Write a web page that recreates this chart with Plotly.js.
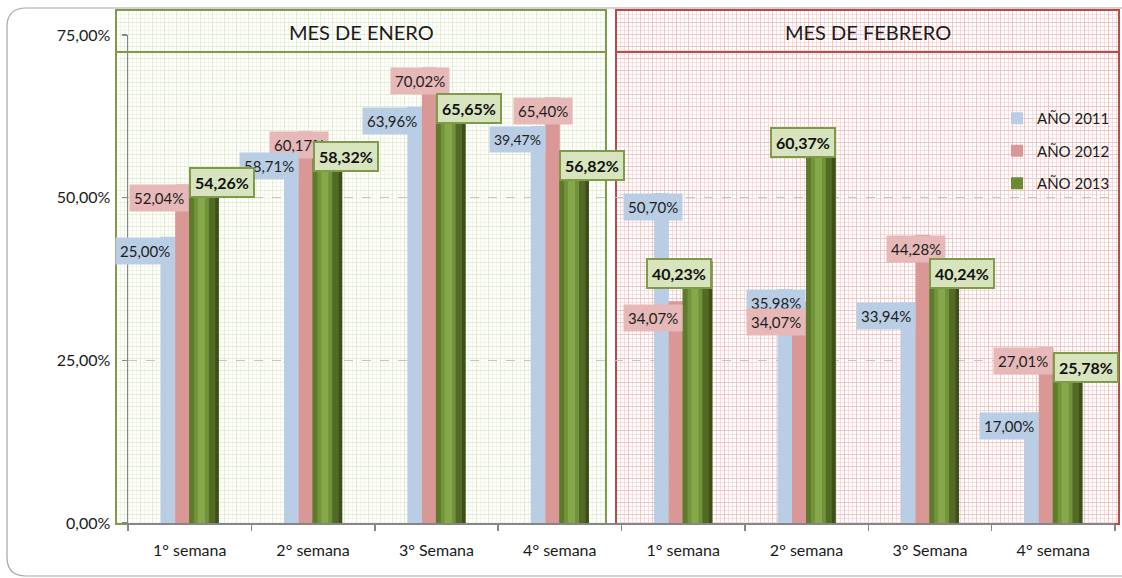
<!DOCTYPE html>
<html>
<head>
<meta charset="utf-8">
<script src="https://cdn.plot.ly/plotly-3.0.1.min.js"></script>
<style>
  html, body { margin: 0; padding: 0; background: #fff; }
  #chart { width: 1122px; height: 578px; }
</style>
</head>
<body>
<div id="chart"></div>
<script>
const weeks = ["1° semana", "2° semana", "3° Semana", "4° semana", "1° semana", "2° semana", "3° Semana", "4° semana"];
const months = ["MES DE ENERO", "MES DE FEBRERO"];
const seriesNames = ["AÑO 2011", "AÑO 2012", "AÑO 2013"];
const yTicks = [0, 25, 50, 75];

// bar heights as drawn (%)
const y2011 = [44.0, 58.71, 63.96, 61.0, 50.70, 35.98, 33.94, 17.00];
const y2012 = [52.04, 60.17, 70.02, 65.40, 34.07, 34.07, 44.28, 27.01];
const y2013 = [54.26, 58.32, 65.65, 56.82, 40.23, 60.37, 40.24, 25.78];

// labels as printed (two of the 2011 labels don't match their bars)
const labels2011 = ["25,00%", "58,71%", "63,96%", "39,47%", "50,70%", "35,98%", "33,94%", "17,00%"];

const FONT = 'Lato, "Open Sans", sans-serif';
const xIdx = weeks.map((_, i) => i);
const fmt = (v) => v.toFixed(2).replace(".", ",") + "%";

// pixel -> paper helpers (plot area is 128..1115 x 35..523)
const L = 128, R = 1115, T = 35, B = 523;
const X = (p) => (p - L) / (R - L);
const Y = (p) => (B - p) / (B - T);

// Bars (overlay, 3d-ish cylinder for 2013 made of stripes)

const blue = {
  type: "bar", x: xIdx, y: y2011, name: seriesNames[0], legendgroup: "g2011",
  width: 0.12, offset: -0.236,
  marker: { color: "#b9cde5" }, hoverinfo: "skip",
};
const pink = {
  type: "bar", x: xIdx, y: y2012, name: seriesNames[1], legendgroup: "g2012",
  width: 0.118, offset: -0.118,
  marker: { color: "#d99795" }, hoverinfo: "skip",
};
const greenStripes = [
  { offset: -0.004, width: 0.24, color: "#6a8b33", legend: true },
  { offset: -0.004, width: 0.04, color: "#5d7b2b" },
  { offset: 0.036, width: 0.03, color: "#73953a" },
  { offset: 0.066, width: 0.06, color: "#86a84a" },
  { offset: 0.126, width: 0.03, color: "#73933a" },
  { offset: 0.156, width: 0.05, color: "#516a26" },
  { offset: 0.206, width: 0.03, color: "#3e4f1c" },
];
const greens = greenStripes.map((s) => ({
  type: "bar", x: xIdx, y: y2013, name: seriesNames[2],
  width: s.width, offset: s.offset,
  marker: { color: s.color },
  legendgroup: "g2013", showlegend: !!s.legend, hoverinfo: "skip",
}));

// Data labels

const annotations = [];
const blueNudge = [0, 0, 0, 0, 14, 14, 0, 0];
const blueDrop = [0, 11, 0, 0, 0, 0, 0, 0];
const pinkNudge = [0, 16, 14, 13, 0, 0, 16, 0];
const pinkDrop = [0, 0, 0, 0, 3, 7, 0, 0];
const greenSide = ["left", "left", "left", "left", "right", "right", "left", "left"];

function blueLabel(i) {
  return {
    x: i - 0.116, y: y2011[i], xref: "x", yref: "y",
    xanchor: "right", yanchor: "top", xshift: blueNudge[i], yshift: -blueDrop[i],
    text: labels2011[i], showarrow: false,
    bgcolor: "#b9cde5", borderpad: 4,
    font: { family: FONT, size: i === 3 ? 14 : 15, color: "#1d1d1d" },
  };
}
function pinkLabel(i) {
  return {
    x: i - 0.002, y: y2012[i], xref: "x", yref: "y",
    xanchor: "right", yanchor: "top", xshift: pinkNudge[i], yshift: -pinkDrop[i],
    text: fmt(y2012[i]), showarrow: false,
    bgcolor: "#e6b9b8", borderpad: 4,
    font: { family: FONT, size: 15, color: "#1d1d1d" },
  };
}
// in enero the blue labels sit over the pink ones, in febrero the other way round
xIdx.forEach((i) => {
  if (i < 4) annotations.push(pinkLabel(i), blueLabel(i));
  else annotations.push(blueLabel(i), pinkLabel(i));
});
xIdx.forEach((i) => {
  const left = greenSide[i] === "left";
  annotations.push({
    x: left ? i - 0.004 : i + 0.236, y: y2013[i], xref: "x", yref: "y",
    xanchor: greenSide[i], yanchor: "top", yshift: 3,
    text: "<b>" + fmt(y2013[i]) + "</b>", showarrow: false,
    bgcolor: "#d7e4bd", bordercolor: "#7f9a48", borderwidth: 2, borderpad: 4,
    font: { family: FONT, size: 16, color: "#111" },
  });
});

// month headers
annotations.push(
  { x: X(361), y: Y(32), xref: "paper", yref: "paper", xanchor: "center", yanchor: "middle",
    text: months[0], showarrow: false, font: { family: FONT, size: 20, color: "#1a1a1a" } },
  { x: X(868), y: Y(32), xref: "paper", yref: "paper", xanchor: "center", yanchor: "middle",
    text: months[1], showarrow: false, font: { family: FONT, size: 20, color: "#1a1a1a" } }
);

// Panel backgrounds: plaid pattern as inline svg images

function plaid(w, h, light, strong) {
  const svg =
    `<svg xmlns='http://www.w3.org/2000/svg' width='${w}' height='${h}'>` +
    `<defs><pattern id='p' width='12' height='12' patternUnits='userSpaceOnUse'>` +
    `<rect width='12' height='12' fill='#ffffff'/>` +
    `<path d='M0 4.5H12M0 8.5H12M4.5 0V12M8.5 0V12' stroke='${light}' stroke-width='1'/>` +
    `<path d='M0 0.5H12M0.5 0V12' stroke='${strong}' stroke-width='1'/>` +
    `</pattern></defs><rect width='${w}' height='${h}' fill='url(#p)'/></svg>`;
  return "data:image/svg+xml;charset=utf-8," + encodeURIComponent(svg);
}

const panels = [
  { x0: 116, x1: 606, line: "#7f9a48", light: "#f0f5e6", strong: "#e3ebd0" },
  { x0: 616, x1: 1119, line: "#b54b4a", light: "#f7dada", strong: "#f0c4c4" },
];
const images = panels.map((p) => ({
  source: plaid(p.x1 - p.x0, 523 - 10, p.light, p.strong),
  xref: "paper", yref: "paper",
  x: X(p.x0), y: Y(10), sizex: X(p.x1) - X(p.x0), sizey: Y(10) - Y(523),
  xanchor: "left", yanchor: "top", sizing: "stretch", layer: "below",
}));

const shapes = [];
panels.forEach((p) => {
  shapes.push({
    type: "rect", xref: "paper", yref: "paper", layer: "below",
    x0: X(p.x0), x1: X(p.x1), y0: Y(524), y1: Y(10),
    line: { color: p.line, width: 2 }, fillcolor: "rgba(0,0,0,0)",
  });
  shapes.push({
    type: "line", xref: "paper", yref: "paper", layer: "below",
    x0: X(p.x0), x1: X(p.x1), y0: Y(52), y1: Y(52),
    line: { color: p.line, width: 2 },
  });
});
// outer rounded frame
shapes.push({
  type: "path", xref: "paper", yref: "paper", layer: "below",
  path:
    `M ${X(1130)},${Y(8)} L ${X(26)},${Y(8)} Q ${X(7)},${Y(8)} ${X(7)},${Y(27)} ` +
    `L ${X(7)},${Y(557)} Q ${X(7)},${Y(576)} ${X(26)},${Y(576)} L ${X(1130)},${Y(576)}`,
  line: { color: "#a6a6a6", width: 1.2 },
});

const layout = {
  width: 1122,
  height: 578,
  margin: { l: L, r: 1122 - R, t: T, b: 578 - B },
  paper_bgcolor: "#ffffff",
  plot_bgcolor: "rgba(0,0,0,0)",
  font: { family: FONT, size: 15, color: "#1a1a1a" },
  barmode: "overlay",
  showlegend: true,
  legend: {
    x: 1, y: Y(102), xanchor: "right", yanchor: "top",
    bgcolor: "rgba(0,0,0,0)", traceorder: "grouped", tracegroupgap: 10,
    font: { family: FONT, size: 15, color: "#1a1a1a" },
  },
  xaxis: {
    range: [-0.5, 7.5],
    tickvals: xIdx, ticktext: weeks, ticks: "",
    ticklabelstandoff: 12,
    minor: { tick0: 0.5, dtick: 1, ticks: "outside", ticklen: 6, tickcolor: "#868686", tickwidth: 1.5 },
    showline: true, linecolor: "#868686", linewidth: 1.5,
    showgrid: false, zeroline: false, fixedrange: true,
    tickfont: { family: FONT, size: 16, color: "#1a1a1a" },
  },
  yaxis: {
    range: [0, 75],
    tickvals: yTicks, ticktext: yTicks.map(fmt),
    ticks: "outside", ticklen: 5, tickcolor: "#868686", tickwidth: 1.5,
    ticklabelstandoff: 8,
    showline: true, linecolor: "#868686", linewidth: 1.5,
    showgrid: true, gridcolor: "#c4c4c4", griddash: "dash", gridwidth: 1,
    zeroline: false, fixedrange: true,
    tickfont: { family: FONT, size: 16, color: "#1a1a1a" },
  },
  annotations: annotations,
  shapes: shapes,
  images: images,
};

Plotly.newPlot("chart", [blue, pink, ...greens], layout, { displayModeBar: false, staticPlot: true });
</script>
</body>
</html>
